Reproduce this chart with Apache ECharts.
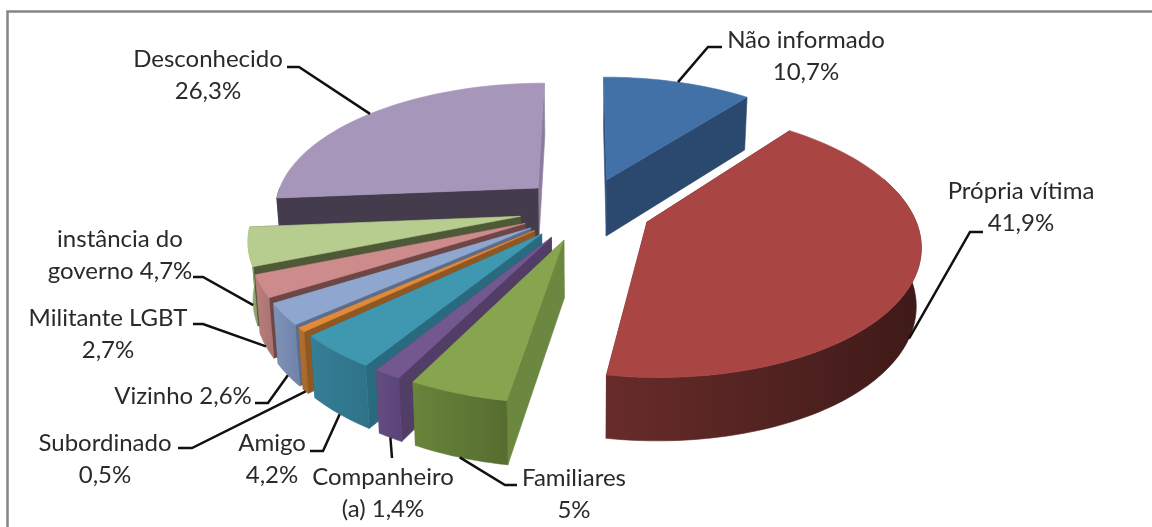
<!DOCTYPE html>
<html><head><meta charset="utf-8">
<style>html,body{margin:0;padding:0;background:#fff}#c{width:1152px;height:527px}</style>
<script src="https://cdn.jsdelivr.net/npm/echarts@6/dist/echarts.min.js"></script>
</head><body><div id="c"></div>
<script>
// ---- data (clockwise from north) ----
const categories = ['Não informado','Própria vítima','Familiares','Companheiro (a)','Amigo','Subordinado','Vizinho','Militante LGBT','instância do governo','Desconhecido'];
const values = [10.7,41.9,5,1.4,4.2,0.5,2.6,2.7,4.7,26.3];
const labelTexts = ['Não informado\n10,7%','Própria vítima\n41,9%','Familiares\n5%','Companheiro\n(a) 1,4%','Amigo\n4,2%','Subordinado\n0,5%','Vizinho 2,6%','Militante LGBT\n2,7%','instância do\ngoverno 4,7%','Desconhecido\n26,3%'];
// ---- styles ----
const topColors   = ['#4271a8','#a94644','#87a44e','#73578f','#3f97b0','#e08a3c','#8fa6cf','#cd8c8b','#b6cd8f','#a696b9'];
const startWalls  = ['#2f4f78','#5a2624','#6c873f','#523d66','#2a6a7e','#8f5722','#5c6d8c','#6e4645','#4e5a37','#443c4d'];
const endWalls    = ['#2b486e','#5a2624','#5d7435','#523d66','#2a6a7e','#8f5722','#5c6d8c','#6e4645','#4e5a37','#8c7da0'];
const rimFrom     = ['#2b486e','#672c2a','#68853b','#654d82','#347f96','#b0702f','#7f93b8','#bb7f7d','#96ab74','#443c4d'];
const rimTo       = ['#2b486e','#3e1a18','#566c30','#59437a','#2f7288','#a5682b','#6f83a8','#a87270','#8aa068','#443c4d'];
const paintOrder  = [9,0,8,7,6,5,4,3,2,1];
// ---- layout of the leader lines and labels ----
const elbows = [[[708,47],[722,47]],[[970,232],[983,232]],[[505,485],[517,485]],[[392,458]],[[323,451],[310,451]],[[192,448],[178,448]],[[268,403],[255,403]],[[203,324],[193,324]],[[203,277],[193,277]],[[299,67],[287,67]]];
const labelCenters = [[806,56],[1021,207],[574,494],[383,493],[272,459],[105,459],[183,396],[108,334],[120,255],[208,75]];
const anchorOnBottom = [false,true,true,true,true,true,true,true,true,false];
const P = {cx:585.5, cy:209, rx:265, ry:127, persp:0.154, explode:0.25, depth:57, bottomShrink:0.985};

const total = values.reduce((a,b)=>a+b,0);
const starts = []; { let acc=0; values.forEach(v=>{starts.push(acc/total*360); acc+=v;}); }
const rad = d=>d*Math.PI/180;
function world(i,tDeg,r){
  const mid = rad(starts[i]+values[i]/total*180), t=rad(tDeg);
  return [P.explode*Math.sin(mid)+r*Math.sin(t), -P.explode*Math.cos(mid)-r*Math.cos(t)];
}
function top2d(w){ const s=1/(1-P.persp*w[1]); return [P.cx+w[0]*P.rx*s, P.cy+w[1]*P.ry*s]; }
function bot2d(w){ const s=1/(1-P.persp*w[1]); return [P.cx+w[0]*P.rx*s*P.bottomShrink, P.cy+w[1]*P.ry*s+P.depth*(1+0.55*(s-1))]; }
function arc(i,a,b,fn){ const n=Math.max(2,Math.ceil(Math.abs(b-a)/1.5)), o=[]; for(let k=0;k<=n;k++){o.push(fn(world(i,a+(b-a)*k/n,1)));} return o; }
function poly(points,fill){ return {type:'polygon',shape:{points},style:{fill,stroke:fill,lineWidth:0.6},silent:true}; }

function renderSlice(params,api){
  const i=api.value(0), a=starts[i], b=a+api.value(1)/total*360;
  const ap=world(i,a,0);
  const kids=[];
  kids.push(poly([top2d(ap),top2d(world(i,b,1)),bot2d(world(i,b,1)),bot2d(ap)],endWalls[i]));
  kids.push(poly([top2d(ap),top2d(world(i,a,1)),bot2d(world(i,a,1)),bot2d(ap)],startWalls[i]));
  const fa=Math.max(a,70), fb=Math.min(b,270);
  if(fb>fa){
    const pts=arc(i,fa,fb,top2d).concat(arc(i,fb,fa,bot2d));
    kids.push(poly(pts,{type:'linear',x:0,y:0,x2:1,y2:0,colorStops:[{offset:0,color:rimFrom[i]},{offset:1,color:rimTo[i]}]}));
  }
  kids.push(poly([top2d(ap)].concat(arc(i,a,b,top2d)),topColors[i]));
  return {type:'group',children:kids};
}
function renderLabel(params,api){
  const i=api.value(0), mid=starts[i]+api.value(1)/total*180;
  const anchor=(anchorOnBottom[i]?bot2d:top2d)(world(i,mid,1));
  const c=labelCenters[i];
  return {type:'group',children:[
    {type:'polyline',shape:{points:[anchor].concat(elbows[i])},style:{stroke:'#111',lineWidth:2.5,fill:null},silent:true},
    {type:'text',style:{text:labelTexts[i],x:c[0],y:c[1],fill:'#2a2a2a',font:'24px Lato',textAlign:'center',textVerticalAlign:'middle',lineHeight:32},silent:true}
  ]};
}
const chart=echarts.init(document.getElementById('c'),null,{renderer:'canvas'});
chart.setOption({
  animation:false,
  backgroundColor:'#fff',
  graphic:[{type:'rect',shape:{x:7.5,y:11.5,width:1240,height:640},style:{fill:'#fff',stroke:'#868686',lineWidth:2.5},silent:true,z:-1}],
  series:[
    {type:'custom',coordinateSystem:'none',renderItem:renderSlice,data:paintOrder.map(i=>[i,values[i]]),z:2,silent:true},
    {type:'custom',coordinateSystem:'none',renderItem:renderLabel,data:paintOrder.map(i=>[i,values[i]]),z:3,silent:true}
  ]
});
</script></body></html>
